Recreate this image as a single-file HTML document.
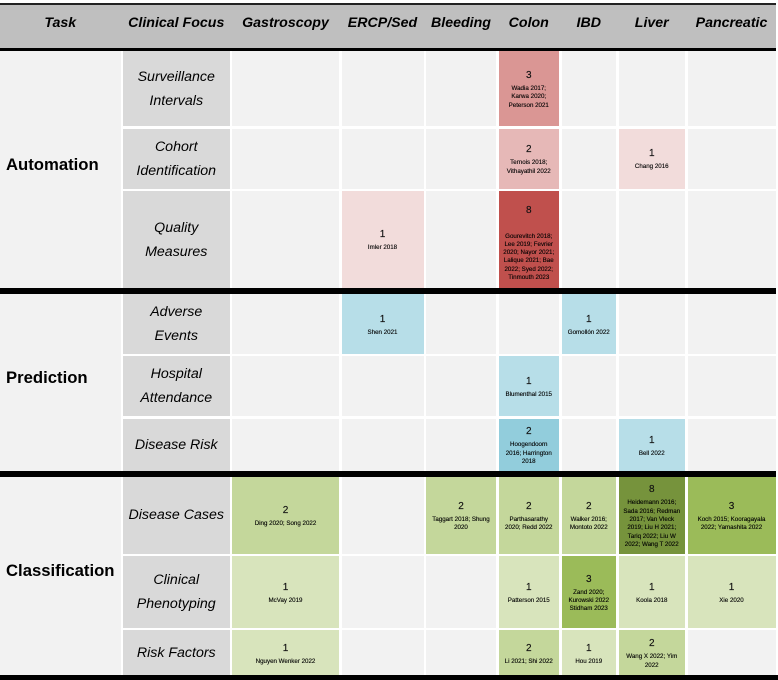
<!DOCTYPE html>
<html lang="en">
<head>
<meta charset="utf-8">
<title>Clinical tasks by focus and organ heatmap</title>
<style>
  html, body { margin: 0; padding: 0; background: #fff; }
  body { width: 778px; height: 680px; overflow: hidden; position: relative;
         font-family: "Liberation Sans", "Noto Sans CJK SC", sans-serif; color: #000; }
  #page { position: absolute; left: 0; top: 0; width: 778px; height: 680px; filter: blur(0.3px); }
  .rule { position: absolute; left: 0; width: 776px; background: #000; }
  #header { position: absolute; left: 0; top: 5px; width: 775.5px; height: 43px; background: #bfbfbf;
            display: grid; column-gap: 2.5px; grid-template-columns: 120.5px 106.5px 107px 82px 70px 60.5px 54.5px 66.5px 88px; }
  .head-cell { display: flex; align-items: center; justify-content: center; padding-bottom: 8px;
               font-size: 14.2px; font-weight: bold; font-style: italic; white-space: nowrap; }
  .section { position: absolute; left: 0; width: 775.5px; display: grid; gap: 2.5px;
             grid-template-columns: 120.5px 106.5px 107px 82px 70px 60.5px 54.5px 66.5px 88px; }
  #section-0 { top: 51px; grid-template-rows: 75px 60px 97px; }
  #section-1 { top: 294px; grid-template-rows: 59.5px 60px 52.5px; }
  #section-2 { top: 476.7px; grid-template-rows: 77.3px 71.5px 44.5px; }
  .task-cell { background: #f2f2f2; display: flex; align-items: center; padding: 0 0 9px 6px; box-sizing: border-box;
               font-size: 16.7px; font-weight: bold; white-space: nowrap; }
  .focus-cell { background: #d9d9d9; display: flex; align-items: center; justify-content: center; text-align: center;
                font-size: 14.2px; font-style: italic; line-height: 24px; white-space: pre-line; }
  .data-cell { display: flex; flex-direction: column; align-items: center; justify-content: center; text-align: center;
               overflow: hidden; padding-bottom: 1px; box-sizing: border-box; }
  .count { font-size: 10px; line-height: 19px; color: #111; -webkit-text-stroke: 0.15px #111; }
  .cites { font-size: 6.2px; line-height: 8.3px; white-space: pre-line; color: #000; -webkit-text-stroke: 0.12px #000; }
</style>
</head>
<body>
<div id="page">
  <div class="rule" style="top:3px;height:2px;background:#222"></div>
  <div id="header"></div>
  <div class="rule" style="top:48px;height:3px"></div>
  <div id="section-0" class="section"></div>
  <div class="rule" style="top:288.3px;height:5.7px"></div>
  <div id="section-1" class="section"></div>
  <div class="rule" style="top:471px;height:5.7px"></div>
  <div id="section-2" class="section"></div>
  <div class="rule" style="top:675px;height:5px;width:778px"></div>
</div>
<script>
const headerLabels = ['Task', 'Clinical Focus', 'Gastroscopy', 'ERCP/Sed', 'Bleeding', 'Colon', 'IBD', 'Liver', 'Pancreatic'];
const tasks = ['Automation', 'Prediction', 'Classification'];
const focusLabels = [
  ['Surveillance\nIntervals', 'Cohort\nIdentification', 'Quality\nMeasures'],
  ['Adverse\nEvents', 'Hospital\nAttendance', 'Disease Risk'],
  ['Disease Cases', 'Clinical\nPhenotyping', 'Risk Factors']
];
const automationCounts = [
  [0, 0, 0, 3, 0, 0, 0],
  [0, 0, 0, 2, 0, 1, 0],
  [0, 1, 0, 8, 0, 0, 0]
];
const predictionCounts = [
  [0, 1, 0, 0, 1, 0, 0],
  [0, 0, 0, 1, 0, 0, 0],
  [0, 0, 0, 2, 0, 1, 0]
];
const classificationCounts = [
  [2, 0, 2, 2, 2, 8, 3],
  [1, 0, 0, 1, 3, 1, 1],
  [1, 0, 0, 2, 1, 2, 0]
];
const automationCitations = [
  ['', '', '', 'Wadia 2017;\nKarwa 2020;\nPeterson 2021', '', '', ''],
  ['', '', '', 'Ternois 2018;\nVithayathil 2022', '', 'Chang 2016', ''],
  ['', 'Imler 2018', '', '\nGourevitch 2018;\nLee 2019; Fevrier\n2020; Nayor 2021;\nLalique 2021;  Bae\n2022; Syed 2022;\nTinmouth 2023', '', '', '']
];
const predictionCitations = [
  ['', 'Shen 2021', '', '', 'Gomollón 2022', '', ''],
  ['', '', '', 'Blumenthal 2015', '', '', ''],
  ['', '', '', 'Hoogendoorn\n2016; Harrington\n2018', '', 'Bell 2022', '']
];
const classificationCitations = [
  ['Ding 2020; Song 2022', '', 'Taggart 2018; Shung\n2020', 'Parthasarathy\n2020; Redd 2022', 'Walker 2016;\nMontoto 2022', 'Heidemann 2016;\nSada 2016; Redman\n2017; Van Vleck\n2019; Liu H 2021;\nTariq 2022; Liu W\n2022; Wang T 2022', 'Koch 2015; Kooragayala\n2022; Yamashita 2022'],
  ['McVay 2019', '', '', 'Patterson 2015', 'Zand 2020;\nKurowski 2022\nStidham 2023', 'Koola 2018', 'Xie 2020'],
  ['Nguyen Wenker 2022', '', '', 'Li 2021; Shi 2022', 'Hou 2019', 'Wang X 2022; Yim\n2022', '']
];
const sectionCounts = [automationCounts, predictionCounts, classificationCounts];
const sectionCitations = [automationCitations, predictionCitations, classificationCitations];
const redShades = ['#f2dcdb', '#e6b8b7', '#da9694', '#c0504d'];
const blueShades = ['#b7dee8', '#92cddc', '#4bacc6', '#31859b'];
const greenShades = ['#d8e4bc', '#c4d79b', '#9bbb59', '#76933c'];
const taskShades = [redShades, blueShades, greenShades];

function slug(text) {
  return text.toLowerCase().replace(/[^a-z0-9]+/g, '-').replace(/^-|-$/g, '');
}
function shadeFor(taskIndex, count) {
  if (count <= 0) return '#f2f2f2';
  const step = count >= 8 ? 3 : count >= 3 ? 2 : count - 1;
  return taskShades[taskIndex][step];
}

const headerEl = document.getElementById('header');
headerLabels.forEach(function (label) {
  const el = document.createElement('div');
  el.className = 'head-cell';
  el.textContent = label;
  
  
  headerEl.appendChild(el);
});

tasks.forEach(function (task, t) {
  const section = document.getElementById('section-' + t);
  const taskEl = document.createElement('div');
  taskEl.className = 'task-cell';
  taskEl.style.gridColumn = '1';
  taskEl.style.gridRow = '1 / span 3';
  taskEl.textContent = task;
  
  
  section.appendChild(taskEl);

  focusLabels[t].forEach(function (focus, r) {
    const focusEl = document.createElement('div');
    focusEl.className = 'focus-cell';
    focusEl.style.gridColumn = '2';
    focusEl.style.gridRow = String(r + 1);
    focusEl.textContent = focus;
    
    
    section.appendChild(focusEl);

    sectionCounts[t][r].forEach(function (count, c) {
      const cell = document.createElement('div');
      cell.className = 'data-cell';
      cell.style.gridColumn = String(c + 3);
      cell.style.gridRow = String(r + 1);
      cell.style.background = shadeFor(t, count);
      
      
      if (count > 0) {
        const citeText = sectionCitations[t][r][c];
        const num = document.createElement('div');
        num.className = 'count';
        num.textContent = String(count);
        
        
        cell.appendChild(num);
        const cites = document.createElement('div');
        cites.className = 'cites';
        cites.textContent = citeText;
        if (citeText.charAt(0) === '\n') {
          cites.style.marginTop = '4.5px';
          cell.style.paddingTop = '5px';
        }
        
        
        cell.appendChild(cites);
      }
      section.appendChild(cell);
    });
  });
});
</script>
</body>
</html>
